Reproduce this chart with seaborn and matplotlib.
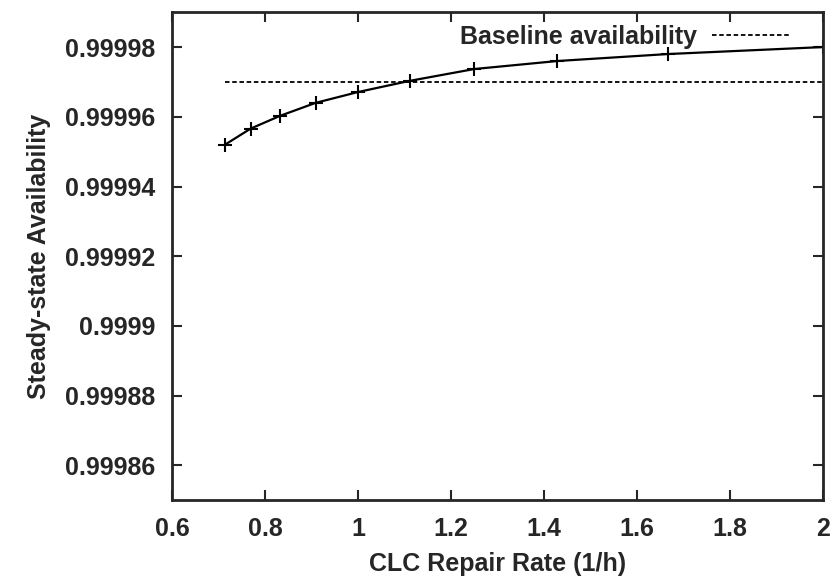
import matplotlib
matplotlib.use("Agg")
import matplotlib.pyplot as plt
import seaborn as sns
import pandas as pd

# Data
repair_rate = [0.714, 0.769, 0.833, 0.909, 1.0, 1.111, 1.25, 1.429, 1.667, 2.0]
availability = [0.999952, 0.9999566, 0.9999603, 0.999964, 0.9999671,
                0.9999703, 0.9999737, 0.999976, 0.999978, 0.99998]
baseline_x = [0.714, 2.0]
baseline_y = [0.99997, 0.99997]
x_ticks = [0.6, 0.8, 1.0, 1.2, 1.4, 1.6, 1.8, 2.0]
x_tick_labels = ["0.6", "0.8", "1", "1.2", "1.4", "1.6", "1.8", "2"]
y_ticks = [0.99986, 0.99988, 0.9999, 0.99992, 0.99994, 0.99996, 0.99998]
y_tick_labels = ["0.99986", "0.99988", "0.9999", "0.99992", "0.99994", "0.99996", "0.99998"]

sns.set_style("ticks")
plt.rcParams['font.family'] = ['Liberation Sans', 'DejaVu Sans']
plt.rcParams['font.weight'] = 'bold'

FS = 18

fig = plt.figure(figsize=(8.33, 5.81), dpi=100)
ax = fig.add_axes([0.2065, 0.139, 0.7815, 0.840])

df = pd.DataFrame({"x": repair_rate, "y": availability})
bdf = pd.DataFrame({"x": baseline_x, "y": baseline_y})

sns.lineplot(data=df, x="x", y="y", ax=ax, color="black", lw=1.6,
             marker="+", markersize=10, markeredgewidth=1.5, markeredgecolor="black")
sns.lineplot(data=bdf, x="x", y="y", ax=ax, color="black", lw=1.3,
             linestyle=(0, (2.5, 1.5)), label="Baseline availability")

ax.set_xlim(0.6, 2.0)
ax.set_ylim(0.99985, 0.99999)
ax.set_xticks(x_ticks)
ax.set_xticklabels(x_tick_labels)
ax.set_yticks(y_ticks)
ax.set_yticklabels(y_tick_labels)

ax.tick_params(direction="in", length=7, width=1.5, top=True, right=True,
               labelsize=FS, pad=12)
for lab in ax.get_xticklabels() + ax.get_yticklabels():
    lab.set_fontweight("bold")
for s in ax.spines.values():
    s.set_linewidth(2)
    s.set_visible(True)

ax.set_xlabel("CLC Repair Rate (1/h)", fontsize=FS, fontweight="bold", labelpad=8)
ax.set_ylabel("Steady-state Availability", fontsize=FS, fontweight="bold", labelpad=10)

leg = ax.legend(loc="upper right", bbox_to_anchor=(0.972, 1.005), markerfirst=False,
                frameon=False, prop={"size": FS, "weight": "bold"}, handlelength=3.1,
                borderaxespad=0.2, handletextpad=0.6)

fig.savefig("out.png", dpi=100)
